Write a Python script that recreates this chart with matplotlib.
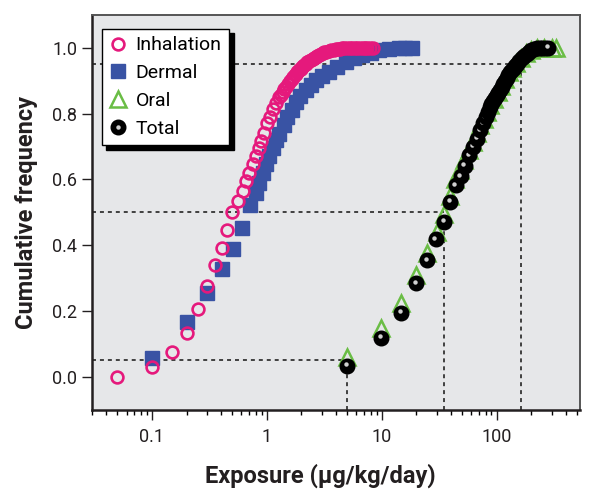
import matplotlib
matplotlib.use("Agg")
import matplotlib.pyplot as plt
from matplotlib.transforms import offset_copy
from matplotlib.legend_handler import HandlerTuple
from matplotlib.lines import Line2D

plt.rcParams['font.family'] = ['Roboto', 'DejaVu Sans']

# cumulative frequency curves
inh_x = [0.05, 0.10, 0.15, 0.20, 0.25, 0.30, 0.354, 0.405, 0.45, 0.50, 0.557, 0.615,
         0.66, 0.70, 0.75, 0.80, 0.86, 0.89, 0.95, 1.01, 1.06, 1.12, 1.19, 1.28, 1.32,
         1.37, 1.42, 1.46, 1.53, 1.6, 1.65, 1.7, 1.75, 1.79, 1.84, 1.88, 1.93, 1.98, 2.02,
         2.07, 2.12, 2.18, 2.25, 2.33, 2.41, 2.5, 2.57, 2.65, 2.75, 2.84, 2.95, 3.05, 3.17,
         3.3, 3.45, 3.6, 3.8, 3.97, 4.15, 4.3, 4.5, 4.7, 5.0, 5.25, 5.5, 5.8, 6.1, 6.45,
         6.8, 7.1, 7.5, 7.9, 8.3]
inh_y = [0.00, 0.03, 0.075, 0.135, 0.207, 0.276, 0.339, 0.393, 0.446, 0.50, 0.535, 0.565,
         0.595, 0.62, 0.646, 0.672, 0.697, 0.717, 0.74, 0.77, 0.79, 0.815, 0.833, 0.85, 0.858,
         0.866, 0.874, 0.881, 0.89, 0.90, 0.905, 0.911, 0.916, 0.921, 0.926, 0.93, 0.934, 0.937, 0.941,
         0.945, 0.949, 0.952, 0.956, 0.96, 0.963, 0.966, 0.969, 0.972, 0.975, 0.977, 0.98, 0.983, 0.986,
         0.988, 0.99, 0.992, 0.994, 0.995, 0.996, 0.997, 0.998, 0.998, 0.999, 1.0, 1.0, 1.0, 1.0, 1.0,
         1.0, 1.0, 1.0, 1.0, 1.0]

derm_x = [0.10, 0.20, 0.30, 0.405, 0.507, 0.607, 0.71, 0.80, 0.86, 0.92, 0.98, 1.05, 1.12,
          1.2, 1.28, 1.4, 1.51, 1.65, 1.78, 1.95, 2.18, 2.4, 2.66, 3.0, 3.47, 4.1, 4.84, 5.7,
          6.77, 8.0, 9.4, 11.5, 14.1, 16.0, 18.3]
derm_y = [0.058, 0.166, 0.256, 0.327, 0.39, 0.452, 0.521, 0.56, 0.59, 0.62, 0.646, 0.672, 0.697,
          0.72, 0.739, 0.765, 0.789, 0.812, 0.835, 0.853, 0.871, 0.887, 0.901, 0.914, 0.926, 0.942, 0.957, 0.968,
          0.977, 0.985, 0.992, 0.997, 1.0, 1.0, 1.0]

oral_x = [5.0, 9.9, 14.6, 20.0, 24.8, 30.0, 34.5, 39.0, 43.0, 48.0, 52.0, 57.0, 62.0, 67.0,
          72.0, 77.0, 82.0, 88.0, 95.0, 102.0, 110.0, 118.0, 127.0, 137.0, 148.0, 162.0,
          180.0, 200.0, 225.0, 260.0, 300.0, 330.0]
oral_y = [0.06, 0.148, 0.226, 0.311, 0.377, 0.44, 0.494, 0.55, 0.60, 0.63, 0.66, 0.69, 0.715, 0.74,
          0.765, 0.785, 0.805, 0.825, 0.845, 0.865, 0.885, 0.905, 0.925, 0.94, 0.955, 0.97,
          0.984, 0.993, 0.998, 1.0, 1.0, 0.998]

tot_x = [5.0, 9.9, 14.8, 20.0, 24.8, 29.4, 34.8, 39.4, 44.0, 48.5, 52.8, 57.8, 62.5, 67.5,
         71.5, 76.0, 80.0, 84.0, 87.7, 90.0, 93.0, 96.5, 100.0, 103.5, 107.0, 110.5, 114.0,
         118.0, 122.0, 126.0, 130.0, 135.0, 140.0, 145.0, 150.0, 157.0, 165.0, 174.0, 183.0,
         191.0, 200.0, 210.0, 222.0, 236.0, 250.0, 265.0, 280.0]
tot_y = [0.034, 0.119, 0.195, 0.284, 0.355, 0.418, 0.472, 0.532, 0.582, 0.61, 0.642, 0.673, 0.70, 0.724,
         0.749, 0.771, 0.79, 0.805, 0.82, 0.829, 0.838, 0.846, 0.855, 0.864, 0.873, 0.882, 0.891,
         0.90, 0.908, 0.917, 0.926, 0.933, 0.94, 0.946, 0.952, 0.96, 0.968, 0.975, 0.982,
         0.987, 0.992, 0.995, 0.998, 1.0, 1.0, 1.0, 1.0]

# percentile guide lines (5th, 50th, 95th of total)
pct_levels = [0.05, 0.5, 0.95]
pct_values = [5.0, 34.5, 163.0]

pink = '#e5197c'
blue = '#3953a4'
green = '#6abd45'

fig = plt.figure(figsize=(5.93, 4.95), dpi=100)
ax = fig.add_axes([0.155, 0.172, 0.823, 0.798])
ax.set_facecolor('#e6e7e9')
ax.set_xscale('log')
ax.set_xlim(0.03, 530)
ax.set_ylim(-0.1, 1.1)

for lev, val in zip(pct_levels, pct_values):
    ax.plot([0.03, val], [lev, lev], color='#333333', lw=1.3, ls=(0, (2.2, 2.2)), zorder=1)
    ax.plot([val, val], [-0.1, lev], color='#333333', lw=1.3, ls=(0, (2.2, 2.2)), zorder=1)

h_d, = ax.plot(derm_x, derm_y, 's', ms=9.5, color=blue, mec=blue, ls='none', zorder=2)
h_i, = ax.plot(inh_x, inh_y, 'o', ms=8.5, mfc='none', mec=pink, mew=1.9, ls='none', zorder=3)
h_o, = ax.plot(oral_x, oral_y, '^', ms=12, mfc='none', mec=green, mew=1.8, ls='none', zorder=2)

# shaded spheres: each ball drawn with its highlight before the next one
shift = offset_copy(ax.transData, fig=fig, x=-1.0, y=1.0, units='points')
for k, (tx, ty) in enumerate(zip(tot_x, tot_y)):
    ax.plot([tx], [ty], 'o', ms=10.5, color='black', ls='none', zorder=4 + 2 * k * 0.001)
    ax.plot([tx], [ty], 'o', ms=3.2, color='#cfcfcf', mec='none', ls='none',
            transform=shift, zorder=4 + (2 * k + 1) * 0.001)

h_tb = Line2D([], [], marker='o', ms=10.5, color='black', ls='none')
h_hl = Line2D([], [], marker='o', ms=3.2, color='#cfcfcf', mec='none', ls='none')

leg = ax.legend([h_i, h_d, h_o, (h_tb, h_hl)], ['Inhalation', 'Dermal', 'Oral', 'Total'],
                handler_map={tuple: HandlerTuple(ndivide=1, pad=0)},
                loc='upper left', bbox_to_anchor=(0.02, 0.965), borderaxespad=0,
                fontsize=14, frameon=True, fancybox=False, framealpha=1,
                edgecolor='black', handlelength=0.9, handletextpad=0.45,
                labelspacing=0.5, borderpad=0.4,
                shadow={'color': 'black', 'alpha': 1, 'ox': 3, 'oy': -3})
leg.get_frame().set_linewidth(1.0)
leg.set_zorder(10)

ax.set_xticks([0.1, 1, 10, 100])
ax.set_xticklabels(['0.1', '1', '10', '100'])
ax.set_yticks([0.0, 0.2, 0.4, 0.6, 0.8, 1.0])
ax.set_yticklabels(['0.0', '0.2', '0.4', '0.6', '0.8', '1.0'])
ax.tick_params(axis='both', which='major', direction='out', length=7, width=1, labelsize=13, colors='#231f20')
ax.tick_params(axis='x', which='minor', direction='out', length=3.5, width=1)
ax.tick_params(axis='x', which='major', pad=6)

for side in ['left', 'bottom']:
    ax.spines[side].set_linewidth(1.8)
    ax.spines[side].set_color('#231f20')
for side in ['top', 'right']:
    ax.spines[side].set_linewidth(1.4)
    ax.spines[side].set_color('#555555')

ax.set_xlabel('Exposure (µg/kg/day)', fontsize=17, fontweight='bold', color='#231f20')
ax.xaxis.set_label_coords(0.467, -0.135)
ax.set_ylabel('Cumulative frequency', fontsize=17, fontweight='bold', color='#231f20', labelpad=10)

fig.savefig('out.png', dpi=100)
